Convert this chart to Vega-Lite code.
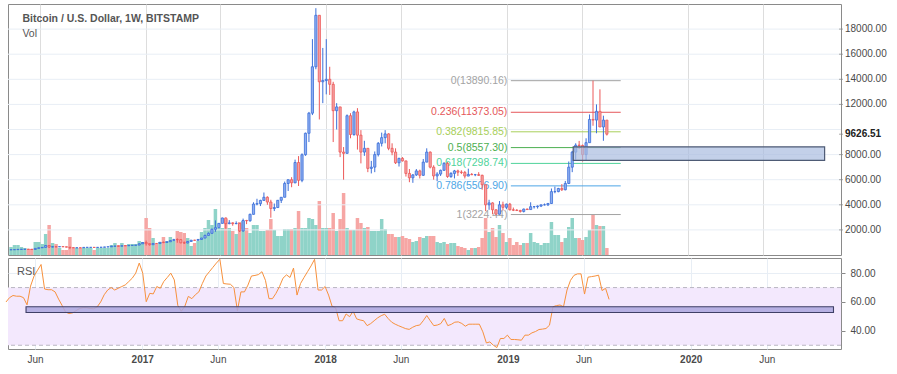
{
"$schema":"https://vega.github.io/schema/vega-lite/v6.json",
"background":"white",
"padding":{"left":3,"top":3,"right":0,"bottom":0},
"autosize":{"type":"pad"},
"datasets":{
"w":[
{"d":"2016-04-04","o":418,"h":425,"l":414,"c":420,"v":32,"r":60},
{"d":"2016-04-11","o":420,"h":430,"l":418,"c":428,"v":40,"r":63},
{"d":"2016-04-18","o":428,"h":452,"l":426,"c":449,"v":40,"r":64.5},
{"d":"2016-04-25","o":449,"h":468,"l":441,"c":455,"v":32,"r":64},
{"d":"2016-05-02","o":455,"h":465,"l":443,"c":460,"v":28,"r":64},
{"d":"2016-05-09","o":460,"h":463,"l":448,"c":456,"v":24,"r":63},
{"d":"2016-05-16","o":456,"h":457,"l":436,"c":442,"v":24,"r":58},
{"d":"2016-05-23","o":442,"h":530,"l":436,"c":527,"v":52,"r":71},
{"d":"2016-05-30","o":527,"h":590,"l":515,"c":575,"v":52,"r":78},
{"d":"2016-06-06","o":575,"h":610,"l":565,"c":605,"v":44,"r":82},
{"d":"2016-06-13","o":605,"h":780,"l":600,"c":760,"v":84,"r":86},
{"d":"2016-06-20","o":760,"h":768,"l":555,"c":635,"v":120,"r":69},
{"d":"2016-06-27","o":635,"h":710,"l":610,"c":660,"v":48,"r":68.5},
{"d":"2016-07-04","o":660,"h":690,"l":610,"c":650,"v":44,"r":68.5},
{"d":"2016-07-11","o":650,"h":680,"l":645,"c":665,"v":28,"r":67},
{"d":"2016-07-18","o":665,"h":675,"l":645,"c":655,"v":20,"r":62},
{"d":"2016-07-25","o":655,"h":660,"l":615,"c":625,"v":20,"r":57.6},
{"d":"2016-08-01","o":625,"h":630,"l":480,"c":590,"v":72,"r":53},
{"d":"2016-08-08","o":590,"h":598,"l":565,"c":570,"v":28,"r":52},
{"d":"2016-08-15","o":570,"h":585,"l":565,"c":580,"v":28,"r":52.5},
{"d":"2016-08-22","o":580,"h":585,"l":567,"c":575,"v":28,"r":54},
{"d":"2016-08-29","o":575,"h":615,"l":565,"c":608,"v":28,"r":55.5},
{"d":"2016-09-05","o":608,"h":630,"l":600,"c":608,"v":28,"r":56},
{"d":"2016-09-12","o":608,"h":612,"l":600,"c":610,"v":28,"r":56},
{"d":"2016-09-19","o":610,"h":612,"l":590,"c":600,"v":20,"r":55.5},
{"d":"2016-09-26","o":600,"h":615,"l":595,"c":612,"v":28,"r":55.3},
{"d":"2016-10-03","o":612,"h":622,"l":605,"c":617,"v":28,"r":56.6},
{"d":"2016-10-10","o":617,"h":645,"l":612,"c":640,"v":28,"r":60},
{"d":"2016-10-17","o":640,"h":655,"l":630,"c":653,"v":28,"r":65},
{"d":"2016-10-24","o":653,"h":735,"l":650,"c":700,"v":40,"r":68.3},
{"d":"2016-10-31","o":700,"h":740,"l":680,"c":705,"v":48,"r":70},
{"d":"2016-11-07","o":705,"h":740,"l":690,"c":702,"v":40,"r":68.3},
{"d":"2016-11-14","o":702,"h":748,"l":695,"c":740,"v":48,"r":69.5},
{"d":"2016-11-21","o":740,"h":750,"l":725,"c":735,"v":40,"r":70.7},
{"d":"2016-11-28","o":735,"h":770,"l":728,"c":765,"v":44,"r":71.8},
{"d":"2016-12-05","o":765,"h":775,"l":755,"c":770,"v":44,"r":74.1},
{"d":"2016-12-12","o":770,"h":795,"l":765,"c":790,"v":44,"r":76.5},
{"d":"2016-12-19","o":790,"h":935,"l":788,"c":890,"v":56,"r":80},
{"d":"2016-12-26","o":890,"h":1000,"l":880,"c":995,"v":52,"r":87},
{"d":"2017-01-02","o":995,"h":1150,"l":750,"c":905,"v":148,"r":80},
{"d":"2017-01-09","o":905,"h":910,"l":750,"c":820,"v":108,"r":60.2},
{"d":"2017-01-16","o":820,"h":930,"l":810,"c":920,"v":68,"r":66},
{"d":"2017-01-23","o":920,"h":930,"l":885,"c":915,"v":44,"r":65.6},
{"d":"2017-01-30","o":915,"h":1020,"l":910,"c":1010,"v":52,"r":70.7},
{"d":"2017-02-06","o":1010,"h":1070,"l":940,"c":995,"v":72,"r":69.5},
{"d":"2017-02-13","o":995,"h":1060,"l":980,"c":1055,"v":56,"r":74.2},
{"d":"2017-02-20","o":1055,"h":1190,"l":1050,"c":1150,"v":72,"r":77},
{"d":"2017-02-27","o":1150,"h":1290,"l":1130,"c":1230,"v":56,"r":80},
{"d":"2017-03-06","o":1230,"h":1330,"l":975,"c":1225,"v":96,"r":75.3},
{"d":"2017-03-13","o":1225,"h":1260,"l":935,"c":970,"v":92,"r":57.6},
{"d":"2017-03-20","o":970,"h":1080,"l":890,"c":960,"v":88,"r":53.6},
{"d":"2017-03-27","o":960,"h":1100,"l":930,"c":1080,"v":68,"r":57},
{"d":"2017-04-03","o":1080,"h":1200,"l":1060,"c":1180,"v":36,"r":63.9},
{"d":"2017-04-10","o":1180,"h":1210,"l":1150,"c":1170,"v":48,"r":62.3},
{"d":"2017-04-17","o":1170,"h":1250,"l":1165,"c":1240,"v":56,"r":65},
{"d":"2017-04-24","o":1240,"h":1365,"l":1235,"c":1350,"v":92,"r":67},
{"d":"2017-05-01","o":1350,"h":1620,"l":1345,"c":1560,"v":108,"r":72.8},
{"d":"2017-05-08","o":1560,"h":1800,"l":1550,"c":1725,"v":140,"r":78},
{"d":"2017-05-15","o":1725,"h":2100,"l":1700,"c":2050,"v":120,"r":81},
{"d":"2017-05-22","o":2050,"h":2760,"l":1850,"c":2180,"v":184,"r":84},
{"d":"2017-05-29","o":2180,"h":2550,"l":2140,"c":2520,"v":108,"r":87},
{"d":"2017-06-05","o":2520,"h":2980,"l":2500,"c":2950,"v":108,"r":89.6},
{"d":"2017-06-12","o":2950,"h":2990,"l":2100,"c":2500,"v":144,"r":72.8},
{"d":"2017-06-19","o":2500,"h":2780,"l":2450,"c":2560,"v":108,"r":72.5},
{"d":"2017-06-26","o":2560,"h":2600,"l":2330,"c":2500,"v":96,"r":72.3},
{"d":"2017-07-03","o":2500,"h":2680,"l":2450,"c":2510,"v":84,"r":70},
{"d":"2017-07-10","o":2510,"h":2520,"l":1830,"c":1920,"v":132,"r":54},
{"d":"2017-07-17","o":1920,"h":2900,"l":1850,"c":2750,"v":136,"r":67},
{"d":"2017-07-24","o":2750,"h":2800,"l":2460,"c":2730,"v":108,"r":67},
{"d":"2017-07-31","o":2730,"h":3300,"l":2650,"c":3240,"v":88,"r":71.7},
{"d":"2017-08-07","o":3240,"h":4200,"l":3220,"c":4060,"v":120,"r":78},
{"d":"2017-08-14","o":4060,"h":4480,"l":3960,"c":4090,"v":120,"r":78.4},
{"d":"2017-08-21","o":4090,"h":4400,"l":3900,"c":4350,"v":96,"r":79},
{"d":"2017-08-28","o":4350,"h":4980,"l":4330,"c":4600,"v":96,"r":81},
{"d":"2017-09-04","o":4600,"h":4680,"l":4000,"c":4220,"v":100,"r":75},
{"d":"2017-09-11","o":4220,"h":4400,"l":2970,"c":3700,"v":144,"r":62.3},
{"d":"2017-09-18","o":3700,"h":4100,"l":3500,"c":3780,"v":100,"r":62.3},
{"d":"2017-09-25","o":3780,"h":4380,"l":3760,"c":4360,"v":76,"r":66},
{"d":"2017-10-02","o":4360,"h":4620,"l":4140,"c":4600,"v":76,"r":70.7},
{"d":"2017-10-09","o":4600,"h":5850,"l":4600,"c":5700,"v":104,"r":76.5},
{"d":"2017-10-16","o":5700,"h":6000,"l":5100,"c":6000,"v":104,"r":78.8},
{"d":"2017-10-23","o":6000,"h":6200,"l":5400,"c":5750,"v":104,"r":77},
{"d":"2017-10-30","o":5750,"h":7600,"l":5720,"c":7370,"v":108,"r":83.5},
{"d":"2017-11-06","o":7370,"h":7880,"l":5500,"c":5950,"v":176,"r":64.8},
{"d":"2017-11-13","o":5950,"h":8100,"l":5800,"c":7990,"v":108,"r":72.8},
{"d":"2017-11-20","o":7990,"h":9750,"l":7900,"c":9700,"v":108,"r":77},
{"d":"2017-11-27","o":9700,"h":11400,"l":9000,"c":11300,"v":148,"r":81},
{"d":"2017-12-04","o":11300,"h":17200,"l":11150,"c":15000,"v":144,"r":85},
{"d":"2017-12-11","o":15000,"h":19666,"l":14800,"c":19100,"v":120,"r":89.6},
{"d":"2017-12-18","o":19100,"h":19100,"l":10800,"c":13800,"v":216,"r":68.3},
{"d":"2017-12-25","o":13800,"h":16500,"l":12100,"c":13900,"v":108,"r":68.3},
{"d":"2018-01-01","o":13900,"h":17200,"l":12800,"c":14000,"v":108,"r":70.7},
{"d":"2018-01-08","o":14000,"h":15000,"l":12750,"c":13600,"v":108,"r":64.8},
{"d":"2018-01-15","o":13600,"h":13800,"l":9000,"c":11500,"v":168,"r":57},
{"d":"2018-01-22","o":11500,"h":12100,"l":10000,"c":11800,"v":96,"r":56},
{"d":"2018-01-29","o":11800,"h":11800,"l":7800,"c":8200,"v":144,"r":47},
{"d":"2018-02-05","o":8200,"h":8600,"l":6000,"c":8100,"v":248,"r":47},
{"d":"2018-02-12","o":8100,"h":11200,"l":8100,"c":11100,"v":108,"r":51.7},
{"d":"2018-02-19","o":11100,"h":11300,"l":9300,"c":9600,"v":100,"r":49.8},
{"d":"2018-02-26","o":9600,"h":11500,"l":9500,"c":11400,"v":100,"r":53.6},
{"d":"2018-03-05","o":11400,"h":11700,"l":8400,"c":9550,"v":148,"r":48.3},
{"d":"2018-03-12","o":9550,"h":9950,"l":7300,"c":8200,"v":128,"r":47.5},
{"d":"2018-03-19","o":8200,"h":9100,"l":7900,"c":8500,"v":108,"r":47},
{"d":"2018-03-26","o":8500,"h":8500,"l":6600,"c":6900,"v":112,"r":43.6},
{"d":"2018-04-02","o":6900,"h":7500,"l":6500,"c":7000,"v":96,"r":45},
{"d":"2018-04-09","o":7000,"h":8250,"l":6600,"c":8000,"v":96,"r":47},
{"d":"2018-04-16","o":8000,"h":9000,"l":7850,"c":8900,"v":96,"r":49},
{"d":"2018-04-23","o":8900,"h":9750,"l":8650,"c":9350,"v":144,"r":50.5},
{"d":"2018-04-30","o":9350,"h":9950,"l":8900,"c":9650,"v":104,"r":51.5},
{"d":"2018-05-07","o":9650,"h":9700,"l":8350,"c":8500,"v":84,"r":48.5},
{"d":"2018-05-14","o":8500,"h":8900,"l":7950,"c":8200,"v":84,"r":46},
{"d":"2018-05-21","o":8200,"h":8500,"l":7250,"c":7350,"v":72,"r":44.6},
{"d":"2018-05-28","o":7350,"h":7750,"l":7050,"c":7700,"v":72,"r":43.5},
{"d":"2018-06-04","o":7700,"h":7800,"l":7450,"c":7500,"v":76,"r":42.5},
{"d":"2018-06-11","o":7500,"h":7500,"l":6250,"c":6500,"v":68,"r":41.5},
{"d":"2018-06-18","o":6500,"h":6850,"l":5800,"c":6150,"v":64,"r":41},
{"d":"2018-06-25","o":6150,"h":6450,"l":5750,"c":6380,"v":52,"r":42.5},
{"d":"2018-07-02","o":6380,"h":6850,"l":6300,"c":6700,"v":56,"r":43.6},
{"d":"2018-07-09","o":6700,"h":6800,"l":6100,"c":6350,"v":72,"r":44},
{"d":"2018-07-16","o":6350,"h":7650,"l":6300,"c":7400,"v":68,"r":47},
{"d":"2018-07-23","o":7400,"h":8500,"l":7400,"c":8200,"v":76,"r":50.6},
{"d":"2018-07-30","o":8200,"h":8250,"l":6900,"c":7000,"v":76,"r":47},
{"d":"2018-08-06","o":7000,"h":7150,"l":6000,"c":6300,"v":76,"r":43.6},
{"d":"2018-08-13","o":6300,"h":6600,"l":5880,"c":6450,"v":52,"r":44},
{"d":"2018-08-20","o":6450,"h":6800,"l":6300,"c":6750,"v":48,"r":45},
{"d":"2018-08-27","o":6750,"h":7400,"l":6700,"c":7300,"v":52,"r":48.6},
{"d":"2018-09-03","o":7300,"h":7400,"l":6150,"c":6250,"v":44,"r":43.6},
{"d":"2018-09-10","o":6250,"h":6600,"l":6150,"c":6500,"v":48,"r":44.5},
{"d":"2018-09-17","o":6500,"h":6780,"l":6100,"c":6700,"v":48,"r":46},
{"d":"2018-09-24","o":6700,"h":6800,"l":6300,"c":6600,"v":36,"r":46.2},
{"d":"2018-10-01","o":6600,"h":6750,"l":6450,"c":6580,"v":32,"r":45.1},
{"d":"2018-10-08","o":6580,"h":6700,"l":6100,"c":6290,"v":28,"r":43.2},
{"d":"2018-10-15","o":6290,"h":6880,"l":6280,"c":6420,"v":20,"r":44.6},
{"d":"2018-10-22","o":6420,"h":6530,"l":6360,"c":6400,"v":28,"r":44.6},
{"d":"2018-10-29","o":6400,"h":6460,"l":6280,"c":6400,"v":28,"r":44.6},
{"d":"2018-11-05","o":6400,"h":6600,"l":6300,"c":6350,"v":32,"r":44.6},
{"d":"2018-11-12","o":6350,"h":6400,"l":5200,"c":5600,"v":68,"r":39.3},
{"d":"2018-11-19","o":5600,"h":5600,"l":3500,"c":4000,"v":148,"r":31.6},
{"d":"2018-11-26","o":4000,"h":4400,"l":3600,"c":4150,"v":92,"r":32.3},
{"d":"2018-12-03","o":4150,"h":4200,"l":3250,"c":3600,"v":108,"r":30},
{"d":"2018-12-10","o":3600,"h":3650,"l":3224.44,"c":3250,"v":72,"r":28.4},
{"d":"2018-12-17","o":3250,"h":4300,"l":3240,"c":4000,"v":120,"r":34.7},
{"d":"2018-12-24","o":4000,"h":4250,"l":3550,"c":3800,"v":88,"r":34.7},
{"d":"2018-12-31","o":3800,"h":4100,"l":3650,"c":4050,"v":52,"r":37},
{"d":"2019-01-07","o":4050,"h":4150,"l":3550,"c":3600,"v":68,"r":34},
{"d":"2019-01-14","o":3600,"h":3780,"l":3500,"c":3570,"v":40,"r":34},
{"d":"2019-01-21","o":3570,"h":3650,"l":3500,"c":3550,"v":52,"r":33.8},
{"d":"2019-01-28","o":3550,"h":3600,"l":3380,"c":3470,"v":40,"r":33.5},
{"d":"2019-02-04","o":3470,"h":3700,"l":3390,"c":3660,"v":48,"r":37},
{"d":"2019-02-11","o":3660,"h":3700,"l":3590,"c":3620,"v":48,"r":37},
{"d":"2019-02-18","o":3620,"h":4200,"l":3620,"c":3850,"v":88,"r":38.6},
{"d":"2019-02-25","o":3850,"h":3900,"l":3700,"c":3850,"v":52,"r":39.5},
{"d":"2019-03-04","o":3850,"h":3950,"l":3700,"c":3900,"v":48,"r":40.9},
{"d":"2019-03-11","o":3900,"h":4000,"l":3820,"c":4000,"v":40,"r":41.2},
{"d":"2019-03-18","o":4000,"h":4100,"l":3950,"c":4000,"v":48,"r":41.6},
{"d":"2019-03-25","o":4000,"h":4150,"l":3900,"c":4100,"v":48,"r":43.9},
{"d":"2019-04-01","o":4100,"h":5300,"l":4080,"c":5050,"v":132,"r":56.7},
{"d":"2019-04-08","o":5050,"h":5450,"l":4920,"c":5050,"v":80,"r":57.5},
{"d":"2019-04-15","o":5050,"h":5350,"l":5000,"c":5300,"v":80,"r":57.9},
{"d":"2019-04-22","o":5300,"h":5650,"l":5100,"c":5200,"v":52,"r":56.7},
{"d":"2019-04-29","o":5200,"h":5900,"l":5150,"c":5700,"v":68,"r":68.3},
{"d":"2019-05-06","o":5700,"h":7450,"l":5650,"c":7000,"v":112,"r":75},
{"d":"2019-05-13","o":7000,"h":8300,"l":6600,"c":8200,"v":148,"r":78.5},
{"d":"2019-05-20","o":8200,"h":8900,"l":7600,"c":8750,"v":68,"r":79.5},
{"d":"2019-05-27","o":8750,"h":9090,"l":8450,"c":8730,"v":68,"r":79.5},
{"d":"2019-06-03","o":8730,"h":8800,"l":7450,"c":8000,"v":60,"r":65.5},
{"d":"2019-06-10","o":8000,"h":9300,"l":7550,"c":8950,"v":72,"r":77.2},
{"d":"2019-06-17","o":8950,"h":11200,"l":8950,"c":10800,"v":100,"r":77.6},
{"d":"2019-06-24","o":10800,"h":13890.16,"l":10300,"c":10750,"v":160,"r":78},
{"d":"2019-07-01","o":10750,"h":12000,"l":9700,"c":11450,"v":120,"r":78.6},
{"d":"2019-07-08","o":11450,"h":13200,"l":10800,"c":10200,"v":116,"r":67.9},
{"d":"2019-07-15","o":10200,"h":11100,"l":9100,"c":10750,"v":116,"r":69.5},
{"d":"2019-07-22","o":10750,"h":10750,"l":9520,"c":9626.51,"v":28,"r":61.8}
],
"fib":[
{"label":"0(13890.16)","p":13890.16},
{"label":"0.236(11373.05)","p":11373.05},
{"label":"0.382(9815.85)","p":9815.85},
{"label":"0.5(8557.30)","p":8557.30},
{"label":"0.618(7298.74)","p":7298.74},
{"label":"0.786(5506.90)","p":5506.90},
{"label":"1(3224.44)","p":3224.44}
],
"ticks":[
{"g":2000,"k":"a"},{"g":4000,"k":"a"},{"g":6000,"k":"a"},{"g":8000,"k":"a"},{"g":9626.51,"k":"cur"},{"g":10000,"k":"n"},{"g":12000,"k":"a"},{"g":14000,"k":"a"},{"g":16000,"k":"a"},{"g":18000,"k":"a"}
]
},
"spacing":0,
"vconcat":[
{
"width":833,"height":251,
"layer":[
{
"data":{"name":"w"},
"mark":{"type":"bar","width":3.5},
"encoding":{
"x":{"field":"d","type":"temporal","scale":{"type":"utc","nice":false,"domain":[{"year":2016,"month":4,"date":8,"utc":true},{"year":2020,"month":10,"date":27,"utc":true}]},
"axis":{"values":[{"year":2016,"month":6,"date":1,"utc":true},{"year":2017,"month":1,"date":1,"utc":true},{"year":2017,"month":6,"date":1,"utc":true},{"year":2018,"month":1,"date":1,"utc":true},{"year":2018,"month":6,"date":1,"utc":true},{"year":2019,"month":1,"date":1,"utc":true},{"year":2019,"month":6,"date":1,"utc":true},{"year":2020,"month":1,"date":1,"utc":true},{"year":2020,"month":6,"date":1,"utc":true}],"labels":false,"ticks":false,"domain":false,"grid":true,"title":null}},
"y":{"field":"v","type":"quantitative","scale":{"domain":[0,1004],"nice":false,"zero":true},"axis":null},
"color":{"condition":{"test":"datum.c >= datum.o","value":"#8fd3c8"},"value":"#f6a6a4"}
}
},
{
"layer":[
{
"data":{"name":"ticks"},
"transform":[{"filter":"datum.k != 'cur'"}],
"mark":{"type":"rule","color":"#e8eef5","strokeWidth":1},
"encoding":{
"y":{"field":"g","type":"quantitative","scale":{"domain":[0,20000],"nice":false,"zero":true},"axis":null}
}
},
{
"data":{"name":"ticks"},
"transform":[{"filter":"datum.k == 'a'"}],
"mark":{"type":"text","align":"left","baseline":"middle","dx":9,"fontSize":10,"font":"Liberation Sans","color":"#4a4a4a"},
"encoding":{
"x":{"datum":{"year":2020,"month":10,"date":27,"utc":true},"type":"temporal"},
"y":{"field":"g","type":"quantitative","axis":null},
"text":{"field":"g","type":"quantitative","format":".2f"}
}
},
{
"data":{"name":"ticks"},
"transform":[{"filter":"datum.k == 'cur'"}],
"mark":{"type":"text","align":"left","baseline":"middle","dx":9,"fontSize":10,"font":"Liberation Sans","fontWeight":"bold","color":"#222222"},
"encoding":{
"x":{"datum":{"year":2020,"month":10,"date":27,"utc":true},"type":"temporal"},
"y":{"field":"g","type":"quantitative","axis":null},
"text":{"field":"g","type":"quantitative","format":".2f"}
}
},
{
"data":{"name":"ticks"},
"transform":[{"filter":"datum.k != 'n'"}],
"mark":{"type":"tick","orient":"horizontal","size":4,"thickness":1,"color":"#888888","xOffset":5},
"encoding":{
"x":{"datum":{"year":2020,"month":10,"date":27,"utc":true},"type":"temporal"},
"y":{"field":"g","type":"quantitative","axis":null}
}
},
{
"data":{"name":"fib"},
"mark":{"type":"rule","strokeWidth":1},
"encoding":{
"x":{"datum":{"year":2019,"month":1,"date":9,"utc":true},"type":"temporal"},
"x2":{"datum":{"year":2019,"month":8,"date":19,"utc":true}},
"y":{"field":"p","type":"quantitative","axis":null},
"color":{"field":"label","type":"nominal","legend":null,"scale":{"domain":["0(13890.16)","0.236(11373.05)","0.382(9815.85)","0.5(8557.30)","0.618(7298.74)","0.786(5506.90)","1(3224.44)"],"range":["#a3a3a3","#e5575a","#a8cf5a","#4caf50","#4fd39b","#4ea6e6","#a3a3a3"]}}
}
},
{
"data":{"name":"fib"},
"mark":{"type":"text","align":"right","baseline":"middle","fontSize":10.5,"font":"Liberation Sans","dx":-1},
"encoding":{
"x":{"datum":{"year":2019,"month":1,"date":4,"utc":true},"type":"temporal"},
"y":{"field":"p","type":"quantitative","axis":null},
"text":{"field":"label"},
"color":{"field":"label","type":"nominal","legend":null}
}
},
{
"data":{"name":"w"},
"mark":{"type":"rule","strokeWidth":1},
"encoding":{
"x":{"field":"d","type":"temporal"},
"y":{"field":"h","type":"quantitative","axis":null},
"y2":{"field":"l"},
"color":{"condition":{"test":"datum.c >= datum.o","value":"#3b6fd9"},"value":"#ec5858"}
}
},
{
"data":{"name":"w"},
"mark":{"type":"bar","width":2.2,"strokeWidth":0.8},
"encoding":{
"x":{"field":"d","type":"temporal"},
"y":{"field":"o","type":"quantitative","axis":null},
"y2":{"field":"c"},
"fill":{"condition":{"test":"datum.c >= datum.o","value":"#8eaef0"},"value":"#f5a3a3"},
"stroke":{"condition":{"test":"datum.c >= datum.o","value":"#3b6fd9"},"value":"#ec5858"}
}
},
{
"data":{"values":[{"t0":"2019-05-15","t1":"2020-10-04","p0":7540,"p1":8620}]},
"mark":{"type":"rect","fill":"#a9bce0","fillOpacity":0.7,"stroke":"#4e5b75","strokeWidth":1.2},
"encoding":{
"x":{"field":"t0","type":"temporal"},
"x2":{"field":"t1"},
"y":{"field":"p0","type":"quantitative","axis":null},
"y2":{"field":"p1"}
}
},
{
"data":{"values":[{}]},
"mark":{"type":"text","align":"left","baseline":"middle","fontSize":10.5,"fontWeight":"bold","font":"Liberation Sans","color":"#555555"},
"encoding":{
"x":{"datum":{"year":2016,"month":4,"date":27,"utc":true},"type":"temporal"},
"y":{"datum":18830,"type":"quantitative","axis":null},
"text":{"value":"Bitcoin / U.S. Dollar, 1W, BITSTAMP"}
}
},
{
"data":{"values":[{}]},
"mark":{"type":"text","align":"left","baseline":"middle","fontSize":10.5,"font":"Liberation Sans","color":"#555555"},
"encoding":{
"x":{"datum":{"year":2016,"month":4,"date":27,"utc":true},"type":"temporal"},
"y":{"datum":17620,"type":"quantitative","axis":null},
"text":{"value":"Vol"}
}
}
]
}
],
"resolve":{"scale":{"y":"independent"}}
},
{
"width":833,"height":91,
"layer":[
{
"data":{"values":[{}]},
"mark":{"type":"rect","fill":"#f3e8fd"},
"encoding":{
"x":{"datum":{"year":2016,"month":4,"date":8,"utc":true},"type":"temporal","scale":{"type":"utc","nice":false,"domain":[{"year":2016,"month":4,"date":8,"utc":true},{"year":2020,"month":10,"date":27,"utc":true}]},
"axis":{"values":[{"year":2016,"month":6,"date":1,"utc":true},{"year":2017,"month":1,"date":1,"utc":true},{"year":2017,"month":6,"date":1,"utc":true},{"year":2018,"month":1,"date":1,"utc":true},{"year":2018,"month":6,"date":1,"utc":true},{"year":2019,"month":1,"date":1,"utc":true},{"year":2019,"month":6,"date":1,"utc":true},{"year":2020,"month":1,"date":1,"utc":true},{"year":2020,"month":6,"date":1,"utc":true}],"labelExpr":"utcmonth(datum.value) == 0 ? utcFormat(datum.value, '%Y') : utcFormat(datum.value, '%b')","labelFontWeight":{"condition":{"test":"utcmonth(datum.value) == 0","value":"bold"},"value":"normal"},"grid":true,"gridColor":"#e8eef5","ticks":false,"domain":false,"labelPadding":5,"labelOverlap":false,"title":null}},
"x2":{"datum":{"year":2020,"month":10,"date":27,"utc":true}},
"y":{"datum":70,"type":"quantitative","scale":{"domain":[27.4,90.5],"nice":false,"zero":false},
"axis":{"orient":"right","values":[40,60,80],"format":".2f","grid":true,"gridColor":"#e8eef5","tickSize":4,"tickColor":"#888888","labelPadding":5,"domain":false,"labelOverlap":false,"title":null}},
"y2":{"datum":30}
}
},
{
"data":{"values":[{"lv":70},{"lv":30}]},
"mark":{"type":"rule","strokeDash":[4,3],"color":"#b9b6c2","strokeWidth":1},
"encoding":{"y":{"field":"lv","type":"quantitative"}}
},
{
"data":{"name":"w"},
"mark":{"type":"line","color":"#f7913d","strokeWidth":1},
"encoding":{
"x":{"field":"d","type":"temporal"},
"y":{"field":"r","type":"quantitative"}
}
},
{
"data":{"values":[{"t0":"2016-05-14","t1":"2020-10-12","r0":52.7,"r1":56.7}]},
"mark":{"type":"rect","fill":"#aaa6de","fillOpacity":0.85,"stroke":"#3f3f66","strokeWidth":1.1},
"encoding":{
"x":{"field":"t0","type":"temporal"},
"x2":{"field":"t1"},
"y":{"field":"r0","type":"quantitative"},
"y2":{"field":"r1"}
}
},
{
"data":{"values":[{}]},
"mark":{"type":"text","align":"left","baseline":"middle","fontSize":11,"font":"Liberation Sans","color":"#555555"},
"encoding":{
"x":{"datum":{"year":2016,"month":4,"date":26,"utc":true},"type":"temporal"},
"y":{"datum":81,"type":"quantitative"},
"text":{"value":"RSI"}
}
}
]
}
],
"config":{
"view":{"stroke":"#8a8a8a","strokeWidth":1},
"axis":{"labelFont":"Liberation Sans","labelFontSize":10,"labelColor":"#4a4a4a","labelOverlap":false},
"text":{"font":"Liberation Sans"}
}
}
